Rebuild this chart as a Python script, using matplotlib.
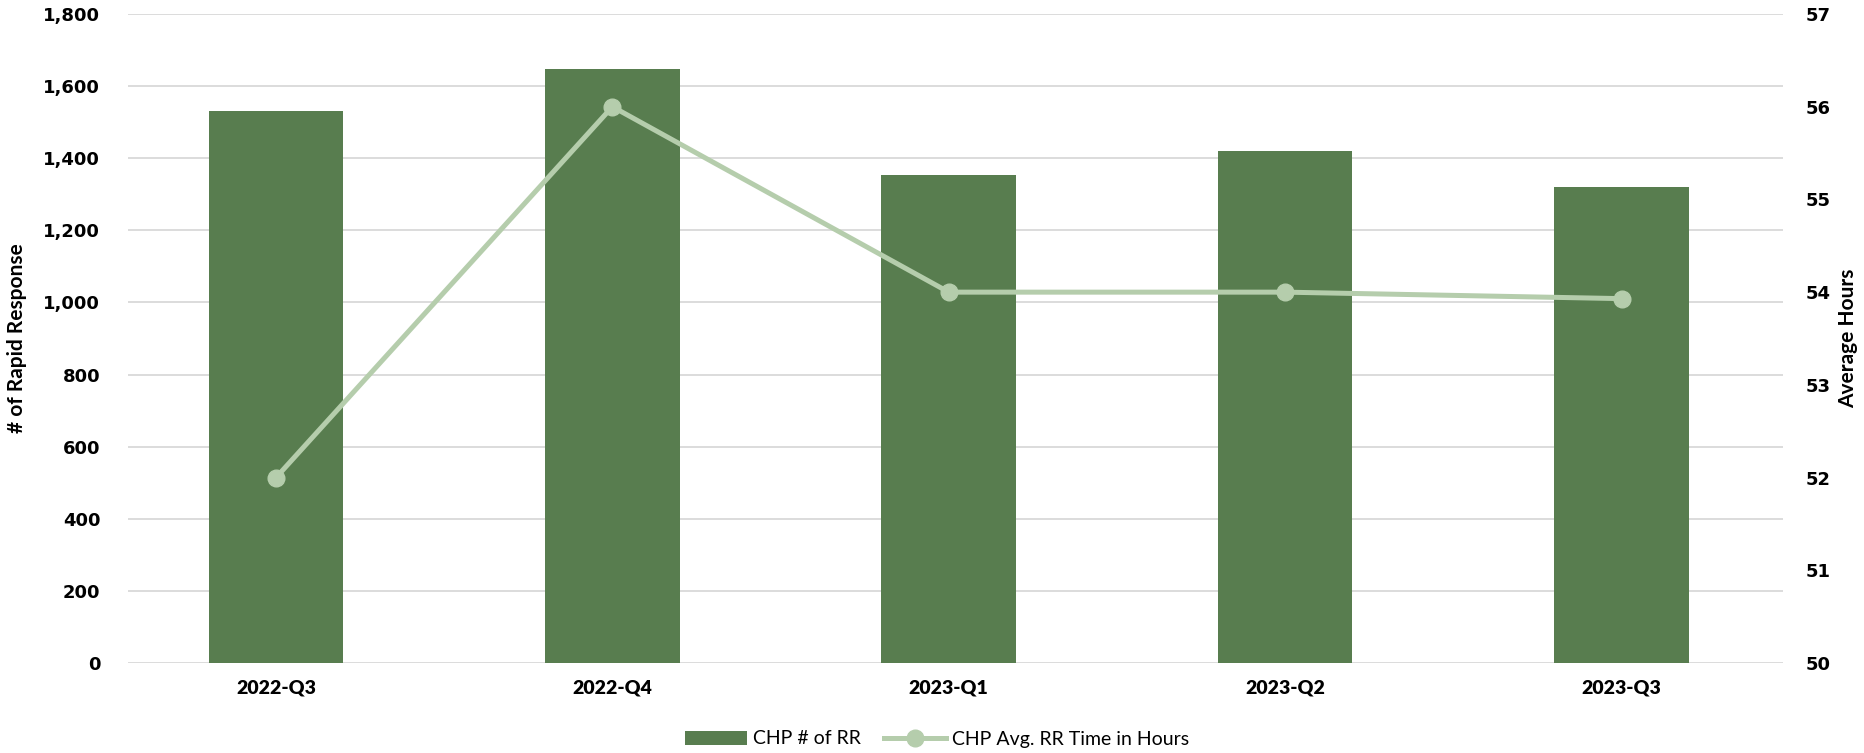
import matplotlib
matplotlib.use('Agg')
import matplotlib.pyplot as plt
import numpy as np

# data
quarters = ['2022-Q3', '2022-Q4', '2023-Q1', '2023-Q2', '2023-Q3']
rr_counts = [1530, 1648, 1353, 1420, 1321]
avg_hours = [52.0, 56.0, 54.0, 54.0, 53.93]

left_ticks = [0, 200, 400, 600, 800, 1000, 1200, 1400, 1600, 1800]
right_ticks = [50, 51, 52, 53, 54, 55, 56, 57]

bar_color = '#587D4F'
line_color = '#B5CDAC'
grid_color = '#D9D9D9'
calibri_like = ['Lato', 'DejaVu Sans']

fig = plt.figure(figsize=(18.65, 7.53), dpi=100)
ax = fig.add_axes([128 / 1865, 1 - 663 / 753, (1783 - 128) / 1865, (663 - 14) / 753])
ax2 = ax.twinx()

x = np.arange(len(quarters))
bars = ax.bar(x, rr_counts, width=0.4, color=bar_color, label='CHP # of RR', zorder=2)
line, = ax2.plot(x, avg_hours, color=line_color, linewidth=3.6, marker='o',
                 markersize=12, label='CHP Avg. RR Time in Hours', zorder=3)

ax.set_xlim(-0.44, 4.48)
ax.set_ylim(0, 1800)
ax2.set_ylim(50, 57)
ax.set_yticks(left_ticks)
ax.set_yticklabels([f'{v:,}' for v in left_ticks], fontsize=13, fontweight='bold')
ax2.set_yticks(right_ticks)
ax2.set_yticklabels([str(v) for v in right_ticks], fontsize=13, fontweight='bold')
ax.set_xticks(x)
ax.set_xticklabels(quarters, fontsize=14, fontweight='heavy', family=calibri_like)

ax.grid(axis='y', color=grid_color, linewidth=1.3, zorder=0)
ax.set_axisbelow(True)
for a in (ax, ax2):
    for s in a.spines.values():
        s.set_visible(False)
    a.tick_params(length=0)
ax.tick_params(axis='y', pad=20)
ax.tick_params(axis='x', pad=12)
ax2.tick_params(axis='y', pad=16)

ax.set_ylabel('# of Rapid Response', fontsize=15, fontweight='bold', family=calibri_like, labelpad=12)
ax2.set_ylabel('Average Hours', fontsize=15, fontweight='bold', family=calibri_like, labelpad=6)

fig.legend([bars, line], ['CHP # of RR', 'CHP Avg. RR Time in Hours'],
           loc='center', bbox_to_anchor=(937 / 1865, 1 - 739 / 753), ncol=2, frameon=False,
           prop={'family': calibri_like, 'size': 14}, handlelength=3.2, handletextpad=0.3,
           columnspacing=1.2)

fig.savefig('out.png', dpi=100)
